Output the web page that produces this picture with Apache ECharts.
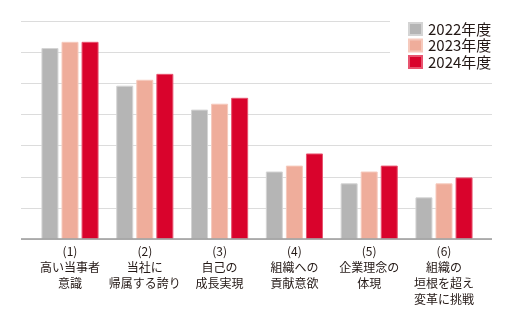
<!DOCTYPE html>
<html>
<head>
<meta charset="utf-8">
<script src="https://cdn.jsdelivr.net/npm/echarts@6/dist/echarts.min.js"></script>
<style>
html,body{margin:0;padding:0;background:#fff;}
#chart{width:515px;height:330px;}
</style>
</head>
<body>
<div id="chart"></div>
<script>
var categories = [
  "(1)\n高い当事者\n意識",
  "(2)\n当社に\n帰属する誇り",
  "(3)\n自己の\n成長実現",
  "(4)\n組織への\n貢献意欲",
  "(5)\n企業理念の\n体現",
  "(6)\n組織の\n垣根を超え\n変革に挑戦"
];
var seriesNames = ["2022年度", "2023年度", "2024年度"];
var values2022 = [6.14, 4.93, 4.16, 2.17, 1.79, 1.34];
var values2023 = [6.34, 5.12, 4.35, 2.36, 2.17, 1.79];
var values2024 = [6.34, 5.31, 4.54, 2.75, 2.36, 1.98];
var colors = ["#b5b5b5", "#efad9b", "#d9032c"];
var borders = ["#d4d4d4", "#f6cabd", "#e8546f"];

var FONT = '"Noto Sans CJK JP", "Noto Sans", sans-serif';
var chart = echarts.init(document.getElementById('chart'), null, {renderer: 'canvas'});
var allValues = [values2022, values2023, values2024];
var series = allValues.map(function (vals, i) {
  return {
    name: seriesNames[i],
    type: 'bar',
    xAxisIndex: 0,
    yAxisIndex: 0,
    data: vals,
    barWidth: 17,
    barGap: '18%',
    itemStyle: {color: colors[i], borderColor: borders[i], borderWidth: 1},
    emphasis: {disabled: true}
  };
});

chart.setOption({
  animation: false,
  textStyle: {fontFamily: FONT},
  grid: [
    {left: 32.6, right: 33.6, top: 21.3, bottom: 91},
    {left: 21, right: 23, top: 21.3, bottom: 91}
  ],
  xAxis: [
    {
      type: 'category', gridIndex: 0, data: categories,
      axisLine: {show: false}, axisTick: {show: false},
      axisLabel: {
        interval: 0, margin: 4, color: '#231815',
        fontSize: 12, lineHeight: 16, fontFamily: FONT
      }
    },
    {
      type: 'value', gridIndex: 1, min: 0, max: 1,
      axisLine: {show: false}, axisTick: {show: false},
      axisLabel: {show: false}, splitLine: {show: false}
    }
  ],
  yAxis: [
    {
      type: 'value', gridIndex: 0, min: 0, max: 7, interval: 1,
      axisLine: {show: false}, axisTick: {show: false},
      axisLabel: {show: false}, splitLine: {show: false}
    },
    {
      type: 'value', gridIndex: 1, min: 0, max: 7, interval: 1,
      axisLine: {show: false}, axisTick: {show: false},
      axisLabel: {show: false},
      splitLine: {show: true, lineStyle: {color: '#dcdcdc', width: 1}}
    }
  ],
  legend: {
    orient: 'vertical',
    left: 390, top: 18,
    padding: [3, 2, 4, 18],
    backgroundColor: '#ffffff',
    itemWidth: 13, itemHeight: 12, itemGap: 0.5,
    icon: 'rect',
    data: seriesNames,
    textStyle: {fontSize: 15, lineHeight: 16, color: '#231815', fontFamily: FONT, padding: [0, 0, 0, 1]}
  },
  series: series.concat([{
    type: 'line', xAxisIndex: 1, yAxisIndex: 1, silent: true,
    data: [], markLine: {
      silent: true, symbol: 'none', label: {show: false},
      lineStyle: {color: '#9a9a9a', width: 1.5, type: 'solid'},
      data: [{yAxis: 0}]
    }
  }])
});
</script>
</body>
</html>
